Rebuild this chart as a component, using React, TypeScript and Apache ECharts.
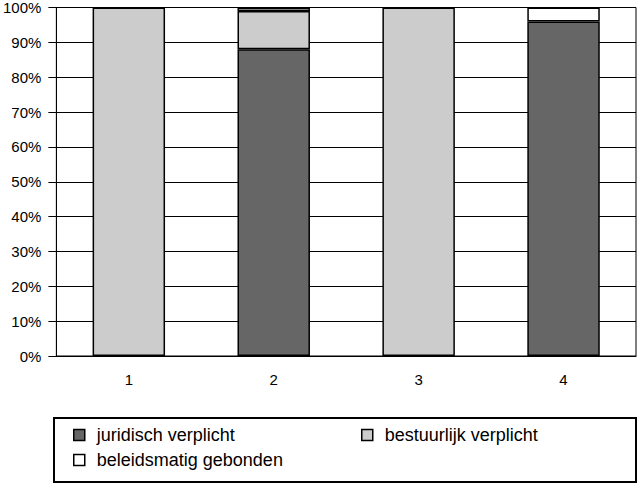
import React, { useEffect, useRef } from "react";
import * as echarts from "echarts";

const categories = ["1", "2", "3", "4"];
const juridisch = [0, 88, 0, 96];
const bestuurlijk = [100, 11, 100, 0];
const beleidsmatig = [0, 1, 0, 4];
const yTicks = [0, 10, 20, 30, 40, 50, 60, 70, 80, 90, 100];

const FONT = "Liberation Sans";

export default function App() {
  const ref = useRef<HTMLDivElement>(null);
  useEffect(() => {
    const chart = echarts.init(ref.current!, null, { renderer: "svg" });
    const nz = (arr: number[]) => arr.map((v) => (v === 0 ? null : v));
    const mk = (name: string, data: number[], color: string) => ({
      name,
      type: "bar",
      stack: "s",
      barWidth: "50%",
      data: nz(data),
      itemStyle: { color, borderColor: "#000", borderWidth: 1.5 },
    });
    const legendCommon = {
      orient: "horizontal",
      padding: 0,
      itemWidth: 11,
      itemHeight: 11,
      icon: "rect",
      itemStyle: { borderColor: "#000", borderWidth: 1.5 },
      textStyle: { fontFamily: FONT, fontSize: 18, color: "#000", padding: [0, 0, 0, 7] },
      selectedMode: false,
    };
    chart.setOption({
      animation: false,
      backgroundColor: "#fff",
      grid: {
        left: 53,
        right: 2,
        top: 6,
        bottom: 129,
        show: true,
        borderColor: "#000",
        borderWidth: 1,
      },
      xAxis: {
        type: "category",
        data: categories,
        axisLine: { lineStyle: { color: "#000", width: 1 } },
        axisTick: { length: 13, lineStyle: { color: "#000" } },
        axisLabel: { fontFamily: FONT, fontSize: 15, color: "#000", margin: 16 },
      },
      yAxis: {
        type: "value",
        min: yTicks[0],
        max: yTicks[yTicks.length - 1],
        interval: 10,
        axisLine: { show: true, lineStyle: { color: "#000" } },
        axisTick: { show: true, length: 8, lineStyle: { color: "#000" } },
        splitLine: { lineStyle: { color: "#000", width: 1 } },
        axisLabel: { fontFamily: FONT, fontSize: 15, color: "#000", margin: 15, formatter: "{value}%" },
      },
      legend: [
        { ...legendCommon, left: 73, top: 426, data: ["juridisch verplicht"] },
        { ...legendCommon, left: 361, top: 426, data: ["bestuurlijk verplicht"] },
        { ...legendCommon, left: 73, top: 451, data: ["beleidsmatig gebonden"] },
      ],
      graphic: [
        {
          type: "rect",
          shape: { x: 54, y: 418, width: 582, height: 64 },
          style: { fill: "none", stroke: "#000", lineWidth: 2 },
        },
      ],
      series: [
        mk("juridisch verplicht", juridisch, "#666666"),
        mk("bestuurlijk verplicht", bestuurlijk, "#cccccc"),
        mk("beleidsmatig gebonden", beleidsmatig, "#ffffff"),
      ],
    });
    return () => chart.dispose();
  }, []);
  return <div ref={ref} style={{ width: 638, height: 485, position: "absolute", left: 0, top: 0 }} />;
}
